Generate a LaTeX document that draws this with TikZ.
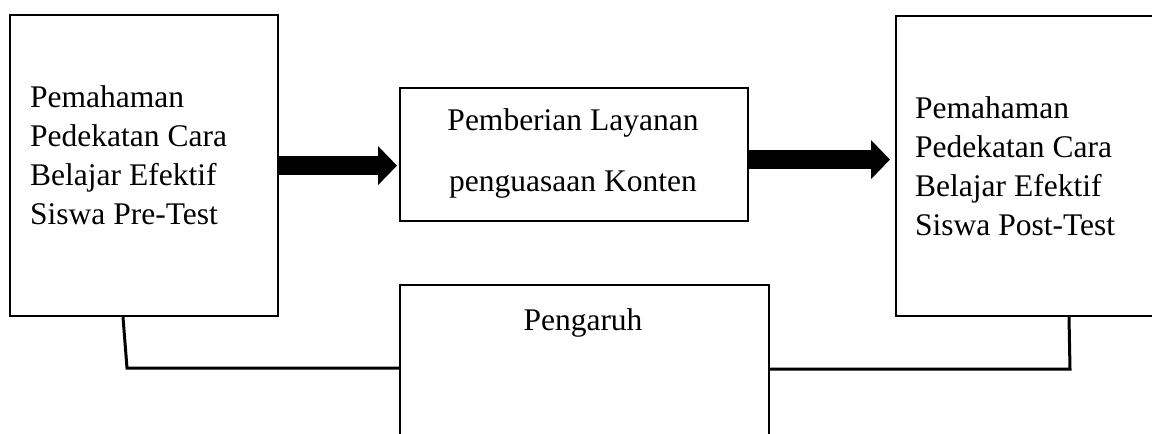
\documentclass[tikz,border=0pt]{standalone}
\usepackage{fontspec}
\setmainfont{Liberation Serif}
\usetikzlibrary{arrows.meta}
\begin{document}
\begin{tikzpicture}[x=1pt,y=-1pt,
  boxst/.style={draw=black,line width=2.2pt,inner sep=0pt,anchor=north west},
  txt/.style={inner sep=0pt,font=\fontsize{31.5}{39}\selectfont},
  conn/.style={line width=3pt,line join=miter},
  bigarrow/.style={line width=19pt,-{Triangle[length=19pt,width=38pt]}}]
\useasboundingbox (0,0) rectangle (1152,434);
% boxes
\node[boxst,minimum width=268pt,minimum height=301pt] (L) at (9,14) {};
\node[boxst,minimum width=348pt,minimum height=133pt] (M) at (399,87) {};
\node[boxst,minimum width=369pt,minimum height=220pt] (B) at (399,284) {};
\node[boxst,minimum width=320pt,minimum height=300pt] (R) at (895,15) {};
% texts
\node[txt,anchor=north west,align=left] (Lt) at (30,85)
  {Pemahaman\\Pedekatan Cara\\Belajar Efektif\\Siswa Pre-Test};
\node[txt,anchor=north west,align=left] (Rt) at (915,96)
  {Pemahaman\\Pedekatan Cara\\Belajar Efektif\\Siswa Post-Test};
\node[txt,anchor=north,align=center,font=\fontsize{31.5}{61}\selectfont] (Mt) at (573,108)
  {Pemberian Layanan\\penguasaan Konten};
\node[txt,anchor=base] (Bt) at (583,330) {Pengaruh};
% arrows
\draw[bigarrow,shorten >=2pt] (L.east) -- (L.east -| M.west);
\draw[bigarrow,shorten >=5pt] ([yshift=-5pt]M.east) -- ([yshift=-5pt]M.east -| R.west);
% connectors
\coordinate (j1) at (127,368);
\coordinate (j2) at (1070,369);
\draw[conn] ([xshift=114pt]L.south west) -- (j1) -- (j1 -| B.west);
\draw[conn] ([xshift=174pt]R.south west) -- (j2) -- (j2 -| B.east);
\end{tikzpicture}
\end{document}
